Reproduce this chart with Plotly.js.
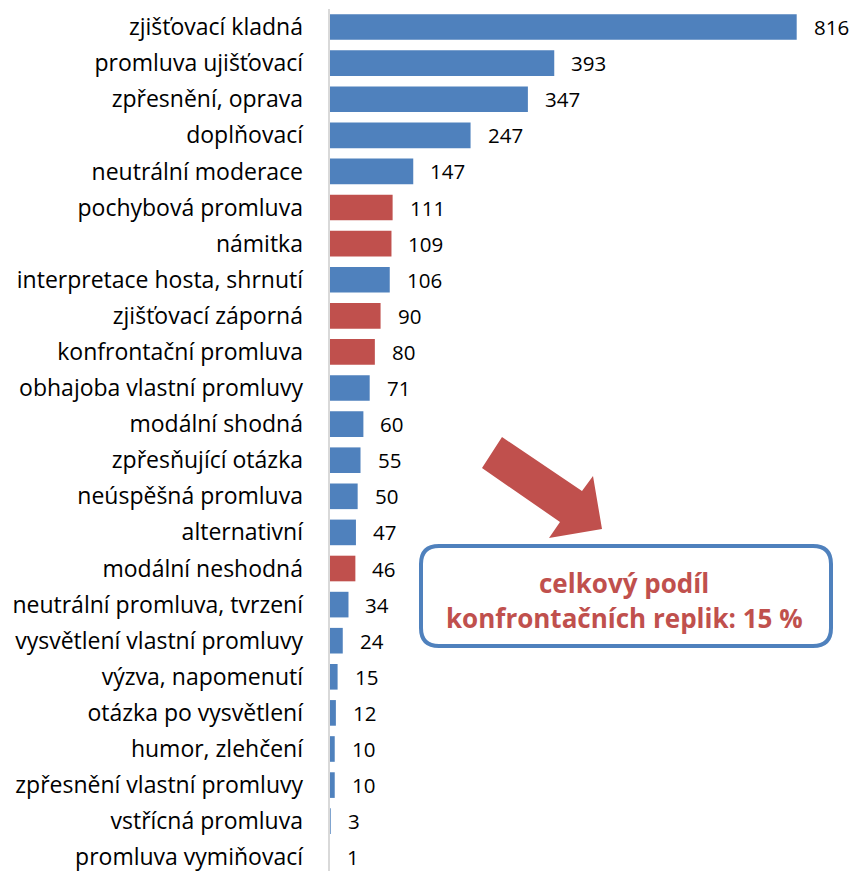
<!DOCTYPE html>
<html>
<head>
<meta charset="utf-8">
<script src="https://cdn.plot.ly/plotly-3.0.1.min.js"></script>
<style>html,body{margin:0;padding:0;background:#fff;}#chart{width:850px;height:871px;}</style>
</head>
<body>
<div id="chart"></div>
<script>
const categories = ["zjišťovací kladná","promluva ujišťovací","zpřesnění, oprava","doplňovací","neutrální moderace","pochybová promluva","námitka","interpretace hosta, shrnutí","zjišťovací záporná","konfrontační promluva","obhajoba vlastní promluvy","modální shodná","zpřesňující otázka","neúspěšná promluva","alternativní","modální neshodná","neutrální promluva, tvrzení","vysvětlení vlastní promluvy","výzva, napomenutí","otázka po vysvětlení","humor, zlehčení","zpřesnění vlastní promluvy","vstřícná promluva","promluva vymiňovací"];
const values = [816,393,347,247,147,111,109,106,90,80,71,60,55,50,47,46,34,24,15,12,10,10,3,1];
const confrontational = [false,false,false,false,false,true,true,false,true,true,false,false,false,false,false,true,false,false,false,false,false,false,false,false];
const calloutLines = ["celkový podíl", "konfrontačních replik: 15 %"];

const BLUE = "#4F81BD", RED = "#C0504D";
const FONT = "'Open Sans', 'Noto Sans', sans-serif";
const W = 850, H = 871;
const ml = 329, mr = 0, mt = 9, mb = 0;
const pw = W - ml - mr, ph = H - mt - mb;
const px = x => (x - ml) / pw;
const py = y => 1 - (y - mt) / ph;

const trace = {
  type: "bar",
  orientation: "h",
  y: categories,
  x: values,
  marker: { color: confrontational.map(c => c ? RED : BLUE) },
  hoverinfo: "none"
};

const valueLabels = values.map((v, i) => ({
  x: v, y: categories[i], xref: "x", yref: "y",
  text: String(v), showarrow: false, xanchor: "left", xshift: 15,
  font: { family: FONT, size: 20.5, color: "#000" }
}));

// arrow polygon in pixel coords
const arrowPts = [[482,468],[502,437],[582,491],[593,476],[602,529],[549,538],[560,522]];
const arrowPath = "M " + arrowPts.map(p => px(p[0]) + "," + py(p[1])).join(" L ") + " Z";

// rounded rectangle
function roundRect(x0, y0, x1, y1, r) {
  const ax = v => px(v), ay = v => py(v);
  return `M ${ax(x0+r)},${ay(y0)} L ${ax(x1-r)},${ay(y0)} Q ${ax(x1)},${ay(y0)} ${ax(x1)},${ay(y0+r)} ` +
    `L ${ax(x1)},${ay(y1-r)} Q ${ax(x1)},${ay(y1)} ${ax(x1-r)},${ay(y1)} ` +
    `L ${ax(x0+r)},${ay(y1)} Q ${ax(x0)},${ay(y1)} ${ax(x0)},${ay(y1-r)} ` +
    `L ${ax(x0)},${ay(y0+r)} Q ${ax(x0)},${ay(y0)} ${ax(x0+r)},${ay(y0)} Z`;
}

const calloutY = [583, 618];
const calloutAnns = calloutLines.map((t, i) => ({
  xref: "paper", yref: "paper", x: px(624), y: py(calloutY[i]),
  text: "<b>" + t + "</b>", showarrow: false,
  xanchor: "center", yanchor: "middle", align: "center",
  font: { family: FONT, size: 26, color: RED }
}));

const layout = {
  width: W, height: H,
  margin: { l: ml, r: mr, t: mt, b: mb, pad: 0 },
  paper_bgcolor: "#fff", plot_bgcolor: "#fff",
  showlegend: false,
  bargap: 0.29,
  xaxis: { range: [0, 909], visible: false, fixedrange: true },
  yaxis: {
    type: "category",
    range: [23.38, -0.5],
    showgrid: false, zeroline: false,
    showline: false, ticks: "",
    ticklabelstandoff: 25,
    tickfont: { family: FONT, size: 23, color: "#000" },
    fixedrange: true
  },
  shapes: [
    { type: "line", xref: "paper", yref: "paper", x0: 0, x1: 0, y0: 0, y1: 1,
      line: { color: "#D9D9D9", width: 2 } },
    { type: "path", xref: "paper", yref: "paper", path: arrowPath,
      fillcolor: RED, line: { width: 0 } },
    { type: "path", xref: "paper", yref: "paper", path: roundRect(421, 546, 831, 646, 18),
      fillcolor: "#fff", line: { color: BLUE, width: 4 } }
  ],
  annotations: valueLabels.concat(calloutAnns)
};

Plotly.newPlot("chart", [trace], layout, { displayModeBar: false, staticPlot: true });
</script>
</body>
</html>
